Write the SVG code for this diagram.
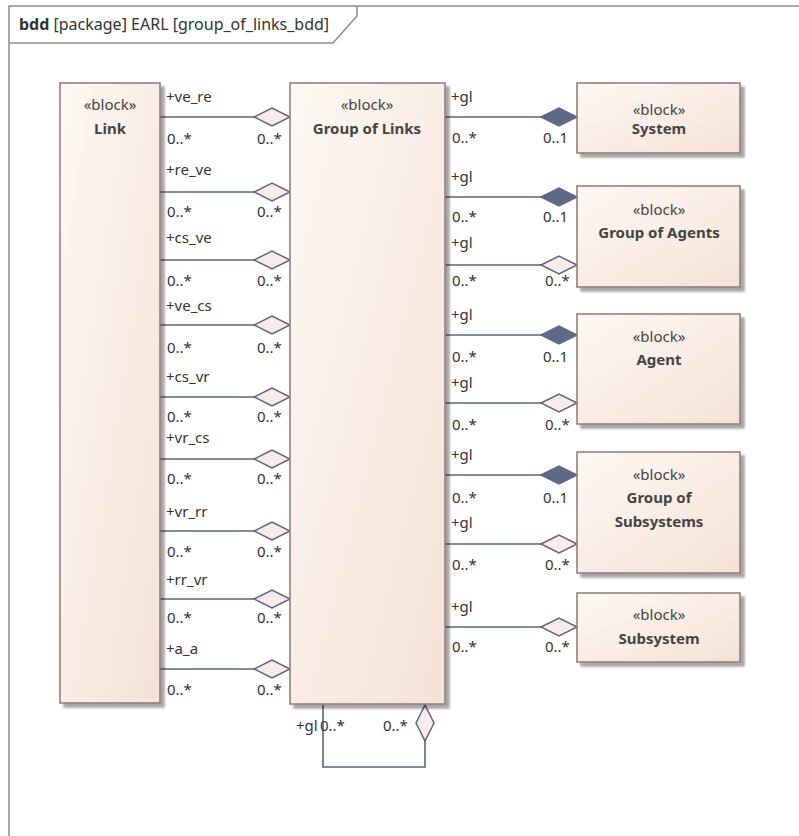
<svg xmlns="http://www.w3.org/2000/svg" width="799" height="836" viewBox="0 0 799 836">
<defs>
<linearGradient id="bg" x1="0" y1="0" x2="1" y2="1">
<stop offset="0" stop-color="#fdf8f4"/>
<stop offset="1" stop-color="#f5e2d6"/>
</linearGradient>
<filter id="sh" x="-10%" y="-10%" width="130%" height="130%">
<feGaussianBlur in="SourceAlpha" stdDeviation="1.2"/>
<feOffset dx="4" dy="4" result="o"/>
<feComponentTransfer><feFuncA type="linear" slope="0.35"/></feComponentTransfer>
<feMerge><feMergeNode/><feMergeNode in="SourceGraphic"/></feMerge>
</filter>
</defs>
<style>
.blk{fill:url(#bg);stroke:#8f7777;stroke-width:1.5;filter:url(#sh)}
.t{font-family:"Noto Sans","Open Sans",sans-serif;font-size:15px;fill:#333}
.st{font-family:"Noto Sans","Open Sans",sans-serif;font-size:15px;fill:#444;text-anchor:middle}
.nm{font-family:"Noto Sans","Open Sans",sans-serif;font-size:15px;font-weight:bold;fill:#444;text-anchor:middle}
.ln{stroke:#5b6584;stroke-width:1.6;fill:none}
.hd{fill:#f8ece8;stroke:#5b6584;stroke-width:1.5}
.fd{fill:#5f6884;stroke:#5f6884;stroke-width:1.5}
</style>
<rect width="799" height="836" fill="#fff"/>
<g id="frame">
<path d="M9 836 V6 H799" fill="none" stroke="#8c8c8c" stroke-width="1.5"/>
<path d="M9 43 H333 L357 16 V6" fill="none" stroke="#8c8c8c" stroke-width="1.5"/>
<text x="19" y="30" class="t" style="font-size:16px"><tspan font-weight="bold">bdd</tspan> [package] EARL [group_of_links_bdd]</text>
</g>
<g id="connectors">
<g id="left-links">
<path class="ln" d="M160 117H254 M160 192H254 M160 260H254 M160 325H254 M160 397H254 M160 459H254 M160 531H254 M160 599H254 M160 669H254"/>
<path class="hd" d="M254 117l18-9 18 9-18 9z M254 192l18-9 18 9-18 9z M254 260l18-9 18 9-18 9z M254 325l18-9 18 9-18 9z M254 397l18-9 18 9-18 9z M254 459l18-9 18 9-18 9z M254 531l18-9 18 9-18 9z M254 599l18-9 18 9-18 9z M254 669l18-9 18 9-18 9z"/>
<g class="t">
<text x="166" y="102">+ve_re</text><text x="167" y="144">0..*</text><text x="257" y="144">0..*</text>
<text x="166" y="175">+re_ve</text><text x="167" y="217">0..*</text><text x="257" y="217">0..*</text>
<text x="166" y="243">+cs_ve</text><text x="167" y="286">0..*</text><text x="257" y="286">0..*</text>
<text x="166" y="311">+ve_cs</text><text x="167" y="353">0..*</text><text x="257" y="353">0..*</text>
<text x="166" y="382">+cs_vr</text><text x="167" y="422">0..*</text><text x="257" y="422">0..*</text>
<text x="166" y="443">+vr_cs</text><text x="167" y="484">0..*</text><text x="257" y="484">0..*</text>
<text x="166" y="517">+vr_rr</text><text x="167" y="557">0..*</text><text x="257" y="557">0..*</text>
<text x="166" y="585">+rr_vr</text><text x="167" y="623">0..*</text><text x="257" y="623">0..*</text>
<text x="166" y="654">+a_a</text><text x="167" y="695">0..*</text><text x="257" y="695">0..*</text>
</g>
</g>
<g id="right-links">
<path class="ln" d="M445 117H541 M445 197H541 M445 265H541 M445 335H541 M445 403H541 M445 475H541 M445 544H541 M445 627H541"/>
<path class="fd" d="M541 117l18-9 18 9-18 9z M541 197l18-9 18 9-18 9z M541 335l18-9 18 9-18 9z M541 475l18-9 18 9-18 9z"/>
<path class="hd" d="M541 265l18-9 18 9-18 9z M541 403l18-9 18 9-18 9z M541 544l18-9 18 9-18 9z M541 627l18-9 18 9-18 9z"/>
<g class="t">
<text x="451" y="102">+gl</text><text x="452" y="143">0..*</text><text x="543" y="143">0..1</text>
<text x="451" y="182">+gl</text><text x="452" y="222">0..*</text><text x="543" y="222">0..1</text>
<text x="451" y="248">+gl</text><text x="452" y="286">0..*</text><text x="545" y="286">0..*</text>
<text x="451" y="320">+gl</text><text x="452" y="362">0..*</text><text x="543" y="362">0..1</text>
<text x="451" y="388">+gl</text><text x="452" y="430">0..*</text><text x="545" y="430">0..*</text>
<text x="451" y="460">+gl</text><text x="452" y="503">0..*</text><text x="543" y="503">0..1</text>
<text x="451" y="528">+gl</text><text x="452" y="570">0..*</text><text x="545" y="570">0..*</text>
<text x="451" y="612">+gl</text><text x="452" y="652">0..*</text><text x="545" y="652">0..*</text>
</g>
</g>
<g id="self-link">
<path class="ln" d="M323 705V767H425V741"/>
<path class="hd" d="M425 705l9 18-9 18-9-18z"/>
<g class="t"><text x="296" y="731">+gl</text><text x="320" y="731">0..*</text><text x="383" y="731">0..*</text></g>
</g>
</g>
<g id="link"><rect class="blk" x="60" y="83" width="100" height="620"/><text x="110" y="110" class="st">«block»</text><text x="110" y="134" class="nm">Link</text></g>
<g id="group-of-links"><rect class="blk" x="290" y="83" width="155" height="621"/><text x="367" y="110" class="st">«block»</text><text x="367" y="134" class="nm">Group of Links</text></g>
<g id="system"><rect class="blk" x="577" y="83" width="163" height="70"/><text x="659" y="115" class="st">«block»</text><text x="659" y="134" class="nm">System</text></g>
<g id="group-of-agents"><rect class="blk" x="577" y="186" width="163" height="101"/><text x="659" y="215" class="st">«block»</text><text x="659" y="238" class="nm">Group of Agents</text></g>
<g id="agent"><rect class="blk" x="577" y="314" width="163" height="110"/><text x="659" y="342" class="st">«block»</text><text x="659" y="365" class="nm">Agent</text></g>
<g id="group-of-subsystems"><rect class="blk" x="577" y="452" width="163" height="121"/><text x="659" y="480" class="st">«block»</text><text x="659" y="503" class="nm">Group of</text><text x="659" y="527" class="nm">Subsystems</text></g>
<g id="subsystem"><rect class="blk" x="577" y="593" width="163" height="69"/><text x="659" y="620" class="st">«block»</text><text x="659" y="644" class="nm">Subsystem</text></g>
</svg>
